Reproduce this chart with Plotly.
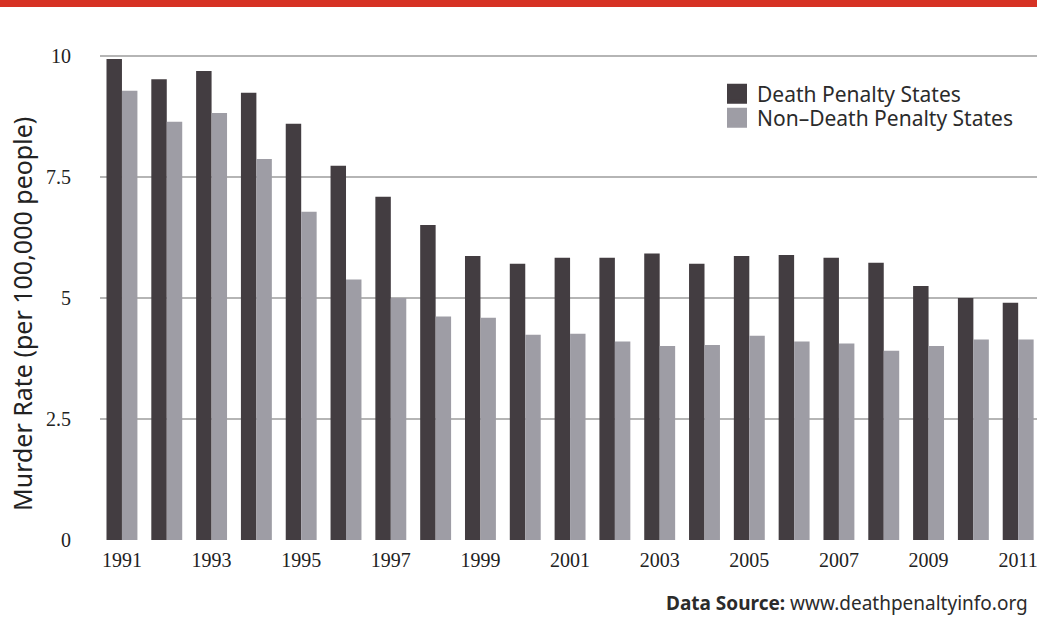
import plotly.graph_objects as go

years = [str(y) for y in range(1991, 2012)]
tick_years = [str(y) for y in range(1991, 2012, 2)]
death_penalty = [9.94, 9.52, 9.69, 9.24, 8.60, 7.73, 7.09, 6.51, 5.87, 5.71, 5.83,
                 5.83, 5.92, 5.71, 5.87, 5.89, 5.83, 5.73, 5.25, 5.00, 4.90]
non_death_penalty = [9.28, 8.64, 8.82, 7.87, 6.78, 5.38, 5.00, 4.62, 4.59, 4.24, 4.26,
                     4.10, 4.01, 4.03, 4.22, 4.10, 4.06, 3.91, 4.01, 4.14, 4.14]
series_names = ["Death Penalty States", "Non\u2013Death Penalty States"]
series_colors = ["#433D41", "#9E9DA5"]
y_ticks = [0, 2.5, 5, 7.5, 10]
y_tick_text = ["0", "2.5", "5", "7.5", "10"]

W, H = 1037, 617
L, R, T, B = 100, 0, 50, 77
pw, ph = W - L - R, H - T - B

sans = "Noto Sans, Liberation Sans, Arial, sans-serif"
serif = "Liberation Serif, Times New Roman, serif"

fig = go.Figure()
for vals, name, col in zip([death_penalty, non_death_penalty], series_names, series_colors):
    fig.add_trace(go.Bar(x=years, y=vals, name=name, showlegend=False,
                         marker=dict(color=col, line=dict(width=0))))
# legend entries with larger square swatches, one legend per entry
for name, col, lg in zip(series_names, series_colors, ["legend", "legend2"]):
    fig.add_trace(go.Scatter(x=[None], y=[None], mode="markers", name=name, legend=lg,
                             marker=dict(symbol="square", size=16, color=col,
                                         line=dict(color=col, width=4))))

legend_common = dict(xanchor="left", yanchor="middle",
                     font=dict(family=sans, size=21, color="#2b2b2b"),
                     bgcolor="rgba(0,0,0,0)", itemwidth=30, itemsizing="trace")

fig.update_layout(
    width=W, height=H,
    margin=dict(l=L, r=R, t=T, b=B, pad=0),
    paper_bgcolor="white", plot_bgcolor="white",
    barmode="group", bargap=0.31, bargroupgap=0,
    showlegend=True,
    legend=dict(x=(717 - L) / pw, y=(540 - 94) / ph, **legend_common),
    legend2=dict(x=(717 - L) / pw, y=(540 - 118) / ph, **legend_common),
    xaxis=dict(type="category", range=[-0.49, 20.42], tickmode="array",
               tickvals=tick_years, ticktext=tick_years, showgrid=False,
               showline=False, ticks="", ticklabelstandoff=6,
               tickfont=dict(family=serif, size=20, color="#222222")),
    yaxis=dict(range=[0, (540 - T) / 48.4], tickmode="array", tickvals=y_ticks,
               ticktext=y_tick_text, showgrid=True, gridcolor="#B5B5B5", gridwidth=2,
               zeroline=True, zerolinecolor="white", zerolinewidth=1,
               showline=False, ticks="", ticklabelstandoff=28,
               tickfont=dict(family=serif, size=20, color="#222222")),
    shapes=[dict(type="rect", xref="paper", yref="paper",
                 x0=-L / pw, x1=1.0, y0=1 + (T - 7) / ph, y1=1 + T / ph + 0.01,
                 fillcolor="#D63224", line=dict(width=0), layer="above")],
    annotations=[
        dict(text="Murder Rate (per 100,000 people)", xref="paper", yref="paper",
             x=(22 - L) / pw, y=(540 - 314) / ph, textangle=-90, showarrow=False,
             xanchor="center", yanchor="middle",
             font=dict(family=sans, size=25, color="#222222")),
        dict(text="<b>Data Source:</b> www.deathpenaltyinfo.org", xref="paper",
             yref="paper", x=(1030 - L) / pw, y=(540 - 603) / ph, showarrow=False,
             xanchor="right", yanchor="middle",
             font=dict(family=sans, size=19, color="#2b2b2b")),
    ],
)

fig.write_html("out.html", config={"displayModeBar": False},
               post_script="document.body.style.margin='0';document.body.style.overflow='hidden';")
